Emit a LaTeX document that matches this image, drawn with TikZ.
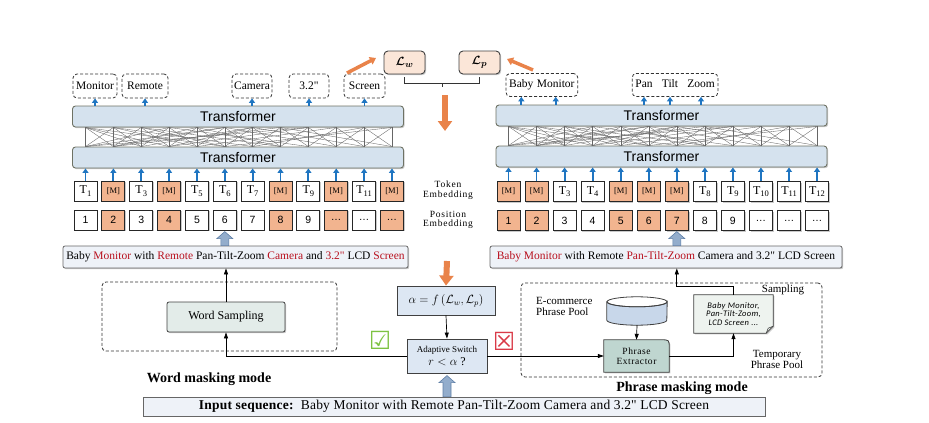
\documentclass[tikz,border=0pt]{standalone}
\usepackage{amsmath,bm}
\usepackage{fontspec}
\setmainfont{Liberation Serif}
\setsansfont{Liberation Sans}
\newfontfamily\notefont{Carlito}
\newfontfamily\iconfont{DejaVu Sans}
\usetikzlibrary{arrows.meta,positioning,fit,calc,shadows,backgrounds}

\definecolor{tfblue}{HTML}{D5E2EE}
\definecolor{tfedge}{HTML}{6E7264}
\definecolor{mask}{HTML}{F2B48F}
\definecolor{arrblue}{HTML}{1F75C1}
\definecolor{arrorange}{HTML}{E9834A}
\definecolor{wordred}{HTML}{B8101E}
\definecolor{sentfill}{HTML}{EEF2F8}
\definecolor{lossfill}{HTML}{FBE6D8}
\definecolor{hollow}{HTML}{93ADCC}
\definecolor{hollowedge}{HTML}{5F7FA6}
\definecolor{wsfill}{HTML}{E3ECE9}
\definecolor{exfill}{HTML}{BFD6D0}
\definecolor{notefill}{HTML}{EEF3EF}
\definecolor{cylfill}{HTML}{C8D7EA}
\definecolor{alphafill}{HTML}{DDE7F3}
\definecolor{okgreen}{HTML}{7DC242}
\definecolor{nored}{HTML}{D93A48}

\newcommand\fsz[1]{\fontsize{#1}{#1}\selectfont}
\newcommand\rw[1]{\textcolor{wordred}{#1}}
\newcommand\mk{{\fsz{8.5}[M]}}
\newcommand\tk[1]{T\raisebox{-2.5pt}{\fsz{8.5}#1}}
\newcommand\inch{3.2\textquotedbl}

\tikzset{
  shade/.style={drop shadow={shadow xshift=1.2pt,shadow yshift=-1.2pt,opacity=0.35,fill=black!60}},
  tfbox/.style={draw=tfedge, fill=tfblue, rounded corners=3pt, line width=0.9pt,
    minimum width=331pt, minimum height=21pt, inner sep=0pt,
    font=\sffamily\fsz{14}, shade},
  tok/.style={draw=black!85, fill=white, line width=0.8pt, minimum width=23pt,
    minimum height=20pt, inner sep=0pt, font=\fsz{12}, shade},
  mtok/.style={tok, fill=mask},
  posbox/.style={tok, font=\sffamily\fsz{10.5}},
  mpos/.style={posbox, fill=mask},
  dashbox/.style={draw=black!80, dash pattern=on 3pt off 2pt, rounded corners=4pt, line width=0.8pt},
  outbox/.style={dashbox, minimum height=24pt, inner sep=0pt, font=\fsz{11.5}},
  word/.style={inner sep=0pt, text height=8pt, text depth=2.5pt, font=\fsz{11.5}},
  latt/.style={draw=black!60, line width=0.35pt},
  upblue/.style={draw=arrblue, line width=1.8pt, -{Triangle[width=6pt,length=4.5pt]}},
  orangearr/.style={draw=arrorange, line width=6pt, -{Triangle[width=14pt,length=10pt]}},
  orangeslant/.style={draw=arrorange, line width=3.5pt, -{Triangle[width=8pt,length=6pt]}},
  thinarr/.style={draw=black, line width=0.7pt, -{Triangle[width=4pt,length=6pt]}},
  sentbox/.style={draw=black!60, fill=sentfill, rounded corners=2pt, line width=0.8pt,
    minimum height=22pt, inner sep=0pt, font=\fsz{11.5}, shade},
  lossbox/.style={draw=black!75, fill=lossfill, rounded corners=4pt, line width=0.9pt,
    minimum width=41pt, minimum height=23pt, font=\fsz{13}, shade},
  procbox/.style={draw=black!75, line width=0.8pt, inner sep=0pt, shade},
  label/.style={inner sep=0pt, align=center, font=\fsz{11}},
  embed/.style={inner sep=0pt, align=center, font=\fsz{9.5}\addfontfeatures{LetterSpace=8}},
  modetext/.style={inner sep=0pt, font=\bfseries\fsz{14}},
  icon/.style={inner sep=0pt, font=\iconfont\fsz{25}},
  pics/hollowup/.style={code={
    \draw[draw=hollowedge, fill=hollow, line width=0.6pt]
      (-4,0) -- (-4,-#1+7) -- (-8,-#1+7) -- (0,-#1) -- (8,-#1+7) -- (4,-#1+7) -- (4,0) -- cycle;}}
}

\begin{document}
\begin{tikzpicture}[x=1pt,y=-1pt]
\useasboundingbox (0,0) rectangle (929,423);

% masking mode frames
\node[dashbox, minimum width=235pt, minimum height=69pt] (wframe) at (219.5,316.5) {};
\node[dashbox, minimum width=301pt, minimum height=94pt] (pframe) at (671.5,330) {};

% ---------- word masking branch ----------
\node[tfbox] (lenc1) at (238,157.5) {Transformer};
\node[tfbox] (lenc2) at (238,116.5) {Transformer};

\foreach \s/\t [count=\i] in {tok/\tk{1}, mtok/\mk, tok/\tk{3}, mtok/\mk, tok/\tk{5}, tok/\tk{6},
    tok/\tk{7}, mtok/\mk, tok/\tk{9}, mtok/\mk, tok/\tk{11}, mtok/\mk}
  \node[\s] (lt\i) at ({85.5+(\i-1)*27.86},191) {\t};
\foreach \s/\t [count=\i] in {posbox/1, mpos/2, posbox/3, mpos/4, posbox/5, posbox/6,
    posbox/7, mpos/8, posbox/9, mpos/\dots, posbox/\dots, mpos/\dots}
  \node[\s] (lp\i) at ({85.5+(\i-1)*27.86},220) {\t};

\foreach \i in {1,...,12}
  \draw[upblue] (lt\i.north) -- (lt\i |- lenc1.south);

% attention lattice
\foreach \i in {1,...,12}
  \draw[latt] (lt\i |- lenc1.north) -- (lt\i |- lenc2.south);
\foreach \i [evaluate=\i as \j using int(\i+1)] in {1,...,11} {
  \draw[latt] (lt\i |- lenc1.north) -- (lt\j |- lenc2.south);
  \draw[latt] (lt\j |- lenc1.north) -- (lt\i |- lenc2.south);
}
\foreach \a/\b in {1/4, 1/6, 2/5, 2/8, 3/1, 3/7, 4/1, 4/9, 5/2, 5/10, 6/1, 6/3, 7/2, 7/11,
    8/3, 8/5, 9/4, 10/6, 11/7, 12/8, 2/6, 4/7, 1/9, 6/12}
  \draw[latt] (lt\a |- lenc1.north) -- (lt\b |- lenc2.south);

\node[sentbox, minimum width=345pt] (lsent) at (235.5,257)
  {Baby \rw{Monitor} with \rw{Remote} Pan-Tilt-Zoom \rw{Camera} and \rw{\inch} LCD \rw{Screen}};
\pic at (lp6 |- lsent.north) {hollowup=14};

\foreach \n/\x/\w/\t in {omon/95/44/Monitor, orem/145/46/Remote, ocam/252/40/Camera,
    othr/309/40/\inch, oscr/364.5/41/Screen} {
  \node[outbox, minimum width=\w pt] (\n) at (\x,86) {\t};
  \draw[upblue] (\n |- lenc2.north) -- (\n.south);
}

% ---------- phrase masking branch ----------
\node[tfbox] (renc1) at (661.5,156.5) {Transformer};
\node[tfbox] (renc2) at (661.5,115.5) {Transformer};

\foreach \s/\t [count=\i] in {mtok/\mk, mtok/\mk, tok/\tk{3}, tok/\tk{4}, mtok/\mk, mtok/\mk,
    mtok/\mk, tok/\tk{8}, tok/\tk{9}, tok/\tk{10}, tok/\tk{11}, tok/\tk{12}}
  \node[\s] (rt\i) at ({508.5+(\i-1)*28.05},191.5) {\t};
\foreach \s/\t [count=\i] in {mpos/1, mpos/2, posbox/3, posbox/4, mpos/5, mpos/6,
    mpos/7, posbox/8, posbox/9, posbox/\dots, posbox/\dots, posbox/\dots}
  \node[\s] (rp\i) at ({508.5+(\i-1)*28.05},220.5) {\t};

\foreach \i in {1,...,12}
  \draw[upblue] (rt\i.north) -- (rt\i |- renc1.south);

\foreach \i in {1,...,12}
  \draw[latt] (rt\i |- renc1.north) -- (rt\i |- renc2.south);
\foreach \i [evaluate=\i as \j using int(\i+1)] in {1,...,11} {
  \draw[latt] (rt\i |- renc1.north) -- (rt\j |- renc2.south);
  \draw[latt] (rt\j |- renc1.north) -- (rt\i |- renc2.south);
}
\foreach \a/\b in {1/4, 1/6, 2/5, 2/8, 3/1, 3/7, 4/1, 4/9, 5/2, 5/10, 6/1, 6/3, 7/2, 7/11,
    8/3, 8/5, 9/4, 10/6, 11/7, 12/8, 2/6, 4/7, 1/9, 6/12}
  \draw[latt] (rt\a |- renc1.north) -- (rt\b |- renc2.south);

\node[sentbox, minimum width=352pt] (rsent) at (666,257)
  {\rw{Baby Monitor} with Remote \rw{Pan-Tilt-Zoom} Camera and \inch{} LCD Screen};
\pic at (rp7 |- rsent.north) {hollowup=14};

\node[word, anchor=west] (obaby) at (509,85) {Baby};
\node[word, right=3pt of obaby] (omonr) {Monitor};
\node[dashbox, fit=(obaby)(omonr), inner xsep=3pt, inner ysep=6pt] (obm) {};
\node[word] (opan) at (644,85) {Pan};
\node[word] (otilt) at (670,85) {Tilt};
\node[word] (ozoom) at (701,85) {Zoom};
\node[dashbox, fit=(opan)(ozoom), inner xsep=3pt, inner ysep=6pt] (optz) {};
\foreach \n in {obaby, omonr}
  \draw[upblue] (\n |- renc2.north) -- (\n |- obm.south);
\foreach \n in {opan, otilt, ozoom}
  \draw[upblue] (\n |- renc2.north) -- (\n |- optz.south);

% embedding labels
\node[embed] (tokemb) at (448,190) {Token\\Embedding};
\node[embed] (posemb) at (448,220) {Position\\Embedding};

% ---------- losses ----------
\node[lossbox] (lw) at (404.5,62.5) {$\bm{\mathcal{L}}_{\bm{w}}$};
\node[lossbox] (lp) at (479.5,62.5) {$\bm{\mathcal{L}}_{\bm{p}}$};
\draw[line width=0.8pt, black!80] ($(lw.south)+(0,3)$) -- ++(0,6) -| ($(lp.south)+(0,3)$);
\coordinate (brk) at ($(lw.south)!0.5!(lp.south)+(0,9)$);
\draw[line width=0.8pt, black!80] (brk) -- ++(0,4);
\coordinate (lossdn) at (445,95);
\coordinate (lossend) at (445,131);
\draw[orangearr] (lossdn) -- (lossend);
\coordinate (wl0) at (347,73);
\coordinate (wl1) at (376,58);
\draw[orangeslant] (wl0) -- (wl1);
\coordinate (pl0) at (533,70);
\coordinate (pl1) at (507,59);
\draw[orangeslant] (pl0) -- (pl1);

% ---------- adaptive switch ----------
\node[procbox, fill=alphafill, minimum width=98pt, minimum height=29pt, font=\fsz{12}] (alpha) at (446,300.5)
  {$\alpha = f\,(\mathcal{L}_w, \mathcal{L}_p)$};
\coordinate (alphain) at (447,261);
\draw[orangearr] (alphain) -- (alpha.north);
\node[procbox, fill=alphafill, minimum width=80pt, minimum height=34pt, align=center] (switch) at (447,356)
  {{\fsz{9}Adaptive Switch}\\[1pt]{\fsz{12}$r < \alpha$ ?}};
\draw[thinarr] (alpha.south) -- (switch.north);

\node[draw=black!60, fill=sentfill, line width=0.8pt, minimum width=622pt, minimum height=19pt,
  inner sep=0pt, font=\fsz{13.5}\addfontfeatures{LetterSpace=1.5}, shade] (input) at (454,406.5)
  {\textbf{Input sequence:}\ \ Baby Monitor with Remote Pan-Tilt-Zoom Camera and \inch{} LCD Screen};
\pic at (switch.south |- input.north) {hollowup=21};

\node[icon, text=okgreen] (okicon) at (380,340) {☑};
\node[icon, text=nored] (noicon) at (504,341) {☒};

% word masking mode
\node[procbox, fill=wsfill, rounded corners=2pt, minimum width=118pt, minimum height=30pt, font=\fsz{12}]
  (wsamp) at (226,317) {Word Sampling};
\draw[thinarr] (switch.west) -| (wsamp.south);
\draw[thinarr] (wsamp.north) -- (wsamp.north |- lsent.south);
\node[modetext] (wmode) at (209,379) {Word masking mode};

% phrase masking mode
\node[label, align=left, anchor=west] (ecpool) at (536,306) {E-commerce\\Phrase Pool};
\node[inner sep=0pt, minimum width=60pt, minimum height=28pt] (ecdb) at (637,311) {};
\filldraw[draw=black!75, fill=cylfill, line width=0.8pt]
  ($(ecdb.north west)+(0,5)$) -- ($(ecdb.south west)+(0,-5)$)
  arc[start angle=180, end angle=0, x radius=30, y radius=5]
  -- ($(ecdb.north east)+(0,5)$) arc[start angle=0, end angle=180, x radius=30, y radius=5] -- cycle;
\draw[black!75, line width=0.8pt] ($(ecdb.north)+(0,5)$) ellipse[x radius=30, y radius=5];
\node[inner sep=0pt, minimum width=65pt, minimum height=32pt, align=center,
  font=\fsz{9.5}\addfontfeatures{LetterSpace=6}] (pex) at (636.5,356) {Phrase\\Extractor};
\node[inner sep=0pt, minimum width=79pt, minimum height=38pt, align=center,
  font=\notefont\itshape\fsz{8.5}\addfontfeatures{LetterSpace=4}] (note) at (733.5,314)
  {Baby Monitor,\\Pan-Tilt-Zoom,\\LCD Screen ...};
\begin{scope}[on background layer]
  \filldraw[draw=black!75, fill=exfill, line width=0.8pt, shade]
    (pex.south west) -- (pex.north west) -- ($(pex.north east)+(-8,0)$)
    .. controls (pex.north east) .. ($(pex.north east)+(0,8)$) -- (pex.south east) -- cycle;
  \filldraw[draw=black!75, fill=notefill, line width=0.8pt, shade]
    (note.south west) -- (note.north west) -- (note.north east) -- ($(note.south east)+(0,-7)$)
    -- ($(note.south east)+(-7,0)$) -- cycle;
  \draw[black!75, line width=0.6pt] ($(note.south east)+(-7,0)$) -- ($(note.south east)+(-5,-5)$)
    -- ($(note.south east)+(0,-7)$);
\end{scope}
\draw[thinarr] (ecdb.south) -- (pex.north);
\draw[thinarr] (switch.east) -- (switch.east -| pex.west);
\draw[thinarr] (pex.east |- switch.east) -| (note.south);
\draw[thinarr] (note.north) -- ++(0,-8) -| (rp7 |- rsent.south);
\node[label] (smp) at (783,290) {Sampling};
\node[label] (tmppool) at (777,359) {Temporary\\Phrase Pool};
\node[modetext] (pmode) at (682,388) {Phrase masking mode};

\end{tikzpicture}
\end{document}
